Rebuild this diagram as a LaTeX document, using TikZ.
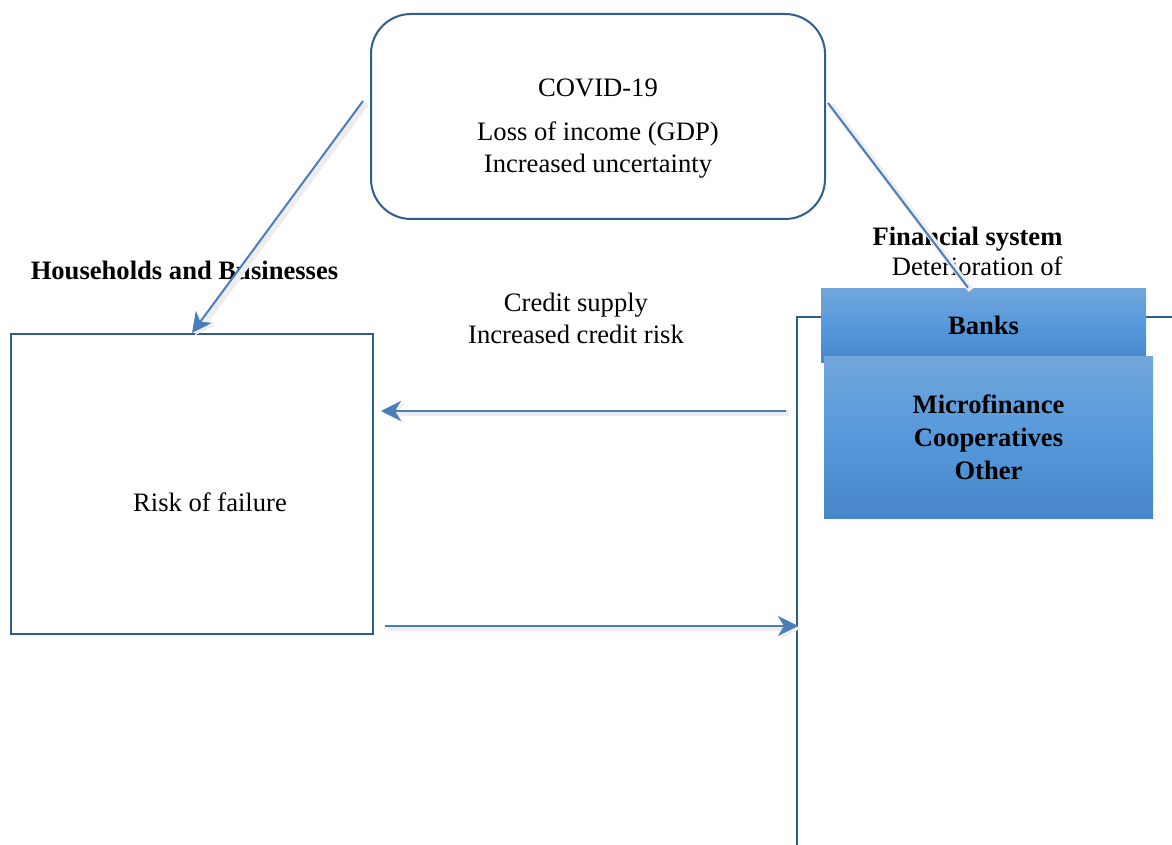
\documentclass[tikz,border=0pt]{standalone}
\usepackage{fontspec}
\setmainfont{Liberation Serif}
\usetikzlibrary{arrows.meta,calc}
\definecolor{boxline}{HTML}{2F5D8C}
\definecolor{arrowblue}{HTML}{4A7EBB}
\definecolor{gtop}{HTML}{72A6DB}
\definecolor{gmid}{HTML}{5699DB}
\definecolor{gbot}{HTML}{4686C9}
\begin{document}
\begin{tikzpicture}[x=0.5pt,y=-0.5pt,
  every node/.style={font=\fontsize{13.3}{16}\selectfont, inner sep=0pt},
  framebox/.style={draw=boxline, line width=1pt},
  conn/.style={draw=arrowblue, line width=1pt},
  tip/.style={-{Stealth[length=10pt,width=10pt,inset=3pt]}},
  shade/.style={preaction={draw=black!7, line width=3pt, transform canvas={shift={(1.5pt,-1.2pt)}}}},
  bluebox/.style={top color=gtop, bottom color=gbot, middle color=gmid, draw=none,
    font=\fontsize{13.3}{16.5}\selectfont\bfseries, align=center}
]
\useasboundingbox (0,0) rectangle (1172,845);
\fill[white] (0,0) rectangle (1172,845);

% COVID box
\node[framebox, rounded corners=20pt, minimum width=227pt, minimum height=102.5pt] (covid) at (598,116.5) {};
\node[align=center] (covidtext) at (598,128.5) {COVID-19\\[6pt]Loss of income (GDP)\\Increased uncertainty};

% Households box
\node[framebox, minimum width=181pt, minimum height=150pt] (risk) at (192,484) {};
\node (risktext) at (210,502) {Risk of failure};
\node[font=\fontsize{13.3}{16}\selectfont\bfseries] (hh) at (184.5,270) {Households and Businesses};

\node[align=center] (credit) at (576,318) {Credit supply\\Increased credit risk};
\node[align=right, font=\fontsize{13.3}{15}\selectfont] (fs) at (967.5,251) {\textbf{Financial system}\\Deterioration of};

% Financial system frame
\coordinate (fsys) at (797,317);
\coordinate (fbot) at (797,845);
\coordinate (fright) at (1172,317);
\draw[framebox] (fbot) -- (fsys) -- (fright);

\node[bluebox, minimum width=162.5pt, minimum height=37pt] (banks) at (983.5,325) {Banks};
\node[bluebox, minimum width=164.5pt, minimum height=81pt] (micro) at (988.5,437) {Microfinance\\Cooperatives\\Other};

% connectors
\draw[conn,tip,shade] ($(covid.west)+(-7,-15.5)$) -- (risk.north);
\draw[conn,shade] ($(covid.east)+(2,-13.5)$) -- ($(banks.north)+(-15.5,0)$);
\draw[conn,tip,shade] ($(fsys)+(-11,94)$) -- ($(risk.east)+(7,-73)$);
\draw[conn,tip,shade] ($(risk.east)+(11,142)$) -- ($(fsys)+(1,309)$);
\end{tikzpicture}
\end{document}
